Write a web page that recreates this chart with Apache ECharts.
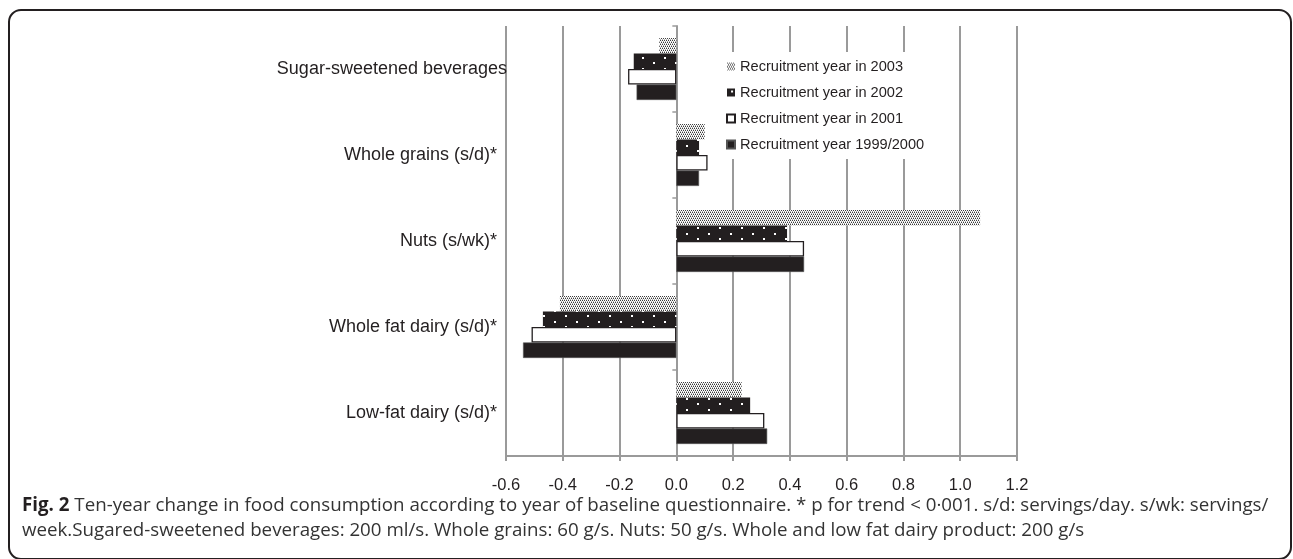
<!DOCTYPE html>
<html><head><meta charset="utf-8">
<script src="https://cdn.jsdelivr.net/npm/echarts@6/dist/echarts.min.js"></script>
<style>html,body{margin:0;padding:0;background:#fff}#chart{width:1293px;height:559px}</style>
</head><body><div id="chart"></div>
<script>
const categories = ['Sugar-sweetened beverages', 'Whole grains (s/d)*', 'Nuts (s/wk)*', 'Whole fat dairy (s/d)*', 'Low-fat dairy (s/d)*'];
const seriesNames = ['Recruitment year in 2003', 'Recruitment year in 2002', 'Recruitment year in 2001', 'Recruitment year 1999/2000'];
const values2003 = [-0.06, 0.10, 1.07, -0.41, 0.23];
const values2002 = [-0.15, 0.08, 0.39, -0.47, 0.26];
const values2001 = [-0.17, 0.11, 0.45, -0.51, 0.31];
const values1999 = [-0.14, 0.08, 0.45, -0.54, 0.32];
const xMin = -0.6, xMax = 1.2, xStep = 0.2;
const captionBold = 'Fig. 2';
const captionLine1 = ' Ten-year change in food consumption according to year of baseline questionnaire. * p for trend < 0·001. s/d: servings/day. s/wk: servings/';
const captionLine2 = 'week.Sugared-sweetened beverages: 200 ml/s. Whole grains: 60 g/s. Nuts: 50 g/s. Whole and low fat dairy product: 200 g/s';

const INK = '#231f20';
const GRID = '#9a9a9a';
const LABEL_FONT = 'Liberation Sans, Arial, sans-serif';
const CAPTION_FONT = 'Open Sans, sans-serif';

function stipple() {
  const c = document.createElement('canvas'); c.width = 4; c.height = 4;
  const g = c.getContext('2d');
  g.fillStyle = '#ffffff'; g.fillRect(0, 0, 4, 4);
  g.fillStyle = '#3c3c3c';
  [[0,0],[2,0],[1,2],[3,2]].forEach(p => g.fillRect(p[0], p[1], 1, 1));
  g.fillStyle = '#b0b0b0';
  [[1,1],[3,1],[0,3],[2,3]].forEach(p => g.fillRect(p[0], p[1], 1, 1));
  return c;
}
function dotted() {
  const c = document.createElement('canvas'); c.width = 22; c.height = 11;
  const g = c.getContext('2d');
  g.fillStyle = INK; g.fillRect(0, 0, 22, 11);
  g.fillStyle = '#ffffff';
  g.fillRect(4, 2, 2, 2); g.fillRect(15, 7, 2, 2);
  return c;
}

// fit caption font size so that line 1 spans the same width as the reference caption
function captionSize() {
  const c = document.createElement('canvas').getContext('2d');
  const base = 16;
  c.font = 'bold ' + base + 'px ' + CAPTION_FONT;
  let w = c.measureText(captionBold).width;
  c.font = base + 'px ' + CAPTION_FONT;
  w += c.measureText(captionLine1).width;
  const target = 1247;
  const s = base * target / w;
  return Math.max(14, Math.min(20, s));
}
const capSize = captionSize();

const fills = [
  { image: stipple(), repeat: 'repeat' },
  { image: dotted(), repeat: 'repeat' },
  '#ffffff',
  INK
];
const seriesData = [values2003, values2002, values2001, values1999];

const chart = echarts.init(document.getElementById('chart'), null, { renderer: 'canvas' });
chart.setOption({
  animation: false,
  backgroundColor: '#ffffff',
  grid: { left: 506, right: 276, top: 26, bottom: 103, containLabel: false },
  legend: {
    orient: 'vertical',
    left: 720, top: 52,
    padding: [7, 12, 7, 6],
    backgroundColor: '#ffffff',
    itemWidth: 8, itemHeight: 8, itemGap: 11,
    icon: 'rect',
    data: seriesNames,
    textStyle: { fontFamily: LABEL_FONT, fontSize: 14.6, color: INK, lineHeight: 15 },
    selectedMode: false
  },
  xAxis: {
    type: 'value', min: xMin, max: xMax, interval: xStep,
    axisLine: { show: true, onZero: false, lineStyle: { color: GRID, width: 2 } },
    axisTick: { show: true, length: 5, lineStyle: { color: GRID, width: 2 } },
    splitLine: { show: true, lineStyle: { color: GRID, width: 2 } },
    axisLabel: {
      margin: 21, fontSize: 16.5, color: INK, fontFamily: LABEL_FONT,
      formatter: v => (Math.abs(v) < 1e-9 ? '0.0' : v.toFixed(1))
    }
  },
  yAxis: [
    {
      type: 'category', data: categories, inverse: true, position: 'left',
      axisLine: { show: true, onZero: true, lineStyle: { color: GRID, width: 2 } },
      axisTick: { show: true, length: 4, lineStyle: { color: GRID, width: 1.5 } },
      axisLabel: { show: false },
      splitLine: { show: false }
    },
    {
      type: 'category', inverse: true, position: 'left',
      data: categories.map((c, i) => i === 0 ? { value: c, textStyle: { padding: [0, -10, 0, 0] } } : c),
      axisLine: { show: false, onZero: false },
      axisTick: { show: false },
      axisLabel: { margin: 9, fontSize: 18, color: INK, fontFamily: LABEL_FONT },
      splitLine: { show: false }
    }
  ],
  series: seriesNames.map((name, i) => ({
    name: name, type: 'bar', yAxisIndex: 0,
    data: seriesData[i],
    barGap: '0%', barCategoryGap: '28%',
    itemStyle: {
      color: fills[i],
      borderColor: i === 2 ? INK : (i === 3 ? '#555' : 'transparent'),
      borderWidth: i === 2 ? 1.3 : (i === 3 ? 0.6 : 0)
    },
    emphasis: { disabled: true }
  })),
  graphic: [
    {
      type: 'rect', z: -1, silent: true,
      shape: { x: 9, y: 10, width: 1282, height: 549, r: 12 },
      style: { fill: 'none', stroke: INK, lineWidth: 2 }
    },
    {
      type: 'text', silent: true, x: 22, y: 506,
      style: {
        text: '{b|' + captionBold + '}{n|' + captionLine1 + '}',
        verticalAlign: 'middle',
        rich: {
          b: { fontFamily: CAPTION_FONT, fontWeight: 'bold', fontSize: capSize, fill: INK },
          n: { fontFamily: CAPTION_FONT, fontSize: capSize, fill: '#333' }
        }
      }
    },
    {
      type: 'text', silent: true, x: 22, y: 531,
      style: { text: captionLine2, verticalAlign: 'middle', fontFamily: CAPTION_FONT, fontSize: capSize, fill: '#333' }
    }
  ]
});
</script></body></html>
